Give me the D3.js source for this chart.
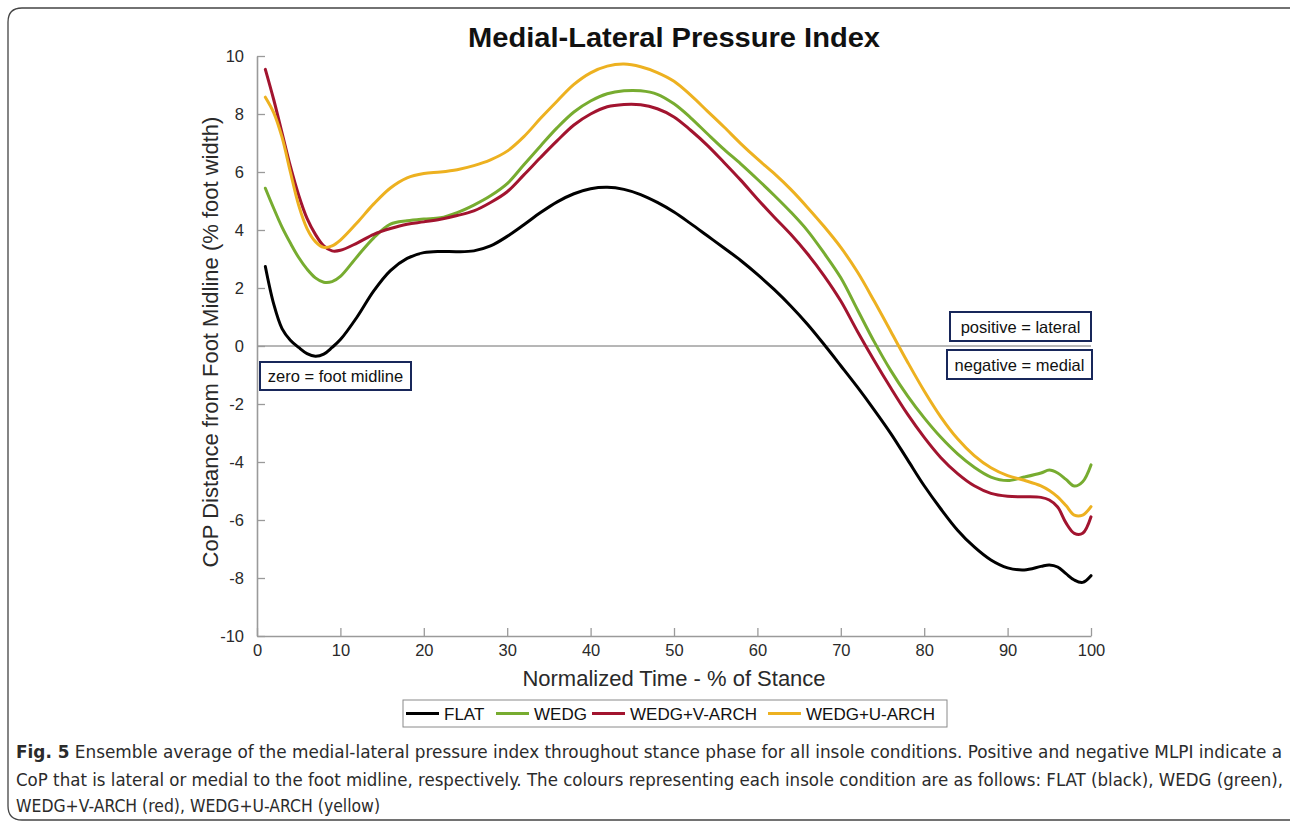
<!DOCTYPE html>
<html>
<head>
<meta charset="utf-8">
<script src="https://cdn.jsdelivr.net/npm/d3@7/dist/d3.min.js"></script>
<style>
  html, body { margin: 0; padding: 0; background: #fff; }
  svg { display: block; }
</style>
</head>
<body>
<svg id="chart" width="1290" height="827"></svg>
<script>
// ---------------- data ----------------
const xValues = [1,2,3,4,5,6,7,8,9,10,12,14,16,18,20,22,24,26,28,30,32,34,36,38,40,42,44,46,48,50,52,54,56,58,60,62,64,66,68,70,72,74,76,78,80,82,84,86,88,90,92,94,95,96,97,98,99,100];

const flat = [2.74,1.45,0.6,0.2,-0.05,-0.26,-0.35,-0.28,-0.05,0.22,1.0,1.9,2.6,3.02,3.22,3.26,3.25,3.28,3.45,3.78,4.18,4.6,4.97,5.25,5.42,5.47,5.4,5.22,4.95,4.62,4.22,3.8,3.38,2.95,2.47,1.95,1.38,0.75,0.05,-0.68,-1.42,-2.2,-3.02,-3.92,-4.82,-5.62,-6.35,-6.93,-7.38,-7.65,-7.72,-7.6,-7.55,-7.62,-7.85,-8.07,-8.15,-7.92];

const wedg = [5.44,4.75,4.1,3.55,3.05,2.65,2.35,2.2,2.22,2.4,3.08,3.73,4.2,4.32,4.38,4.42,4.6,4.86,5.18,5.6,6.25,6.9,7.53,8.07,8.45,8.7,8.8,8.8,8.68,8.35,7.87,7.32,6.78,6.28,5.75,5.2,4.62,3.98,3.2,2.35,1.25,0.15,-0.85,-1.72,-2.48,-3.15,-3.72,-4.18,-4.52,-4.64,-4.52,-4.38,-4.28,-4.38,-4.6,-4.83,-4.68,-4.1];

const wedgV = [9.54,8.5,7.35,6.2,5.2,4.4,3.85,3.45,3.28,3.3,3.55,3.85,4.05,4.2,4.28,4.37,4.5,4.66,4.95,5.32,5.9,6.5,7.08,7.62,8.0,8.25,8.33,8.32,8.18,7.9,7.44,6.92,6.33,5.72,5.07,4.45,3.85,3.18,2.42,1.55,0.5,-0.5,-1.45,-2.35,-3.15,-3.85,-4.4,-4.82,-5.08,-5.18,-5.2,-5.22,-5.31,-5.55,-6.1,-6.46,-6.46,-5.89];

const wedgU = [8.58,8.05,7.2,6.0,4.85,4.05,3.6,3.4,3.45,3.65,4.25,4.9,5.45,5.8,5.95,6.0,6.08,6.22,6.42,6.72,7.22,7.85,8.45,9.02,9.42,9.65,9.72,9.63,9.43,9.13,8.65,8.1,7.55,6.98,6.45,5.95,5.4,4.78,4.12,3.4,2.55,1.55,0.5,-0.55,-1.55,-2.45,-3.2,-3.78,-4.2,-4.47,-4.63,-4.82,-4.98,-5.2,-5.5,-5.83,-5.83,-5.54];

const seriesNames = ["FLAT", "WEDG", "WEDG+V-ARCH", "WEDG+U-ARCH"];
const seriesColors = ["#000000", "#77ac30", "#a2142f", "#edb120"];
const seriesValues = [flat, wedg, wedgV, wedgU];

const xTicks = [0,10,20,30,40,50,60,70,80,90,100];
const yTicks = [-10,-8,-6,-4,-2,0,2,4,6,8,10];

const titleText = "Medial-Lateral Pressure Index";
const xLabel = "Normalized Time - % of Stance";
const yLabel = "CoP Distance from Foot Midline (% foot width)";
const captionLines = [
  ["Fig. 5", " Ensemble average of the medial-lateral pressure index throughout stance phase for all insole conditions. Positive and negative MLPI indicate a"],
  ["", "CoP that is lateral or medial to the foot midline, respectively. The colours representing each insole condition are as follows: FLAT (black), WEDG (green),"],
  ["", "WEDG+V-ARCH (red), WEDG+U-ARCH (yellow)"]
];

// ---------------- layout ----------------
const svg = d3.select("#chart");
const FONT = "'Liberation Sans', Arial, Helvetica, sans-serif";
const plot = { left: 257, right: 1091, top: 56, bottom: 636 };

const x = d3.scaleLinear().domain([0, 100]).range([plot.left, plot.right]);
const y = d3.scaleLinear().domain([-10, 10]).range([plot.bottom, plot.top]);

// outer frame
svg.append("path")
  .attr("d", "M 1296 8 L 22 8 Q 8 8 8 22 L 8 806 Q 8 820 22 820 L 1296 820")
  .attr("fill", "none").attr("stroke", "#444").attr("stroke-width", 1.3);

// title
svg.append("text")
  .attr("x", 674).attr("y", 47)
  .attr("text-anchor", "middle")
  .attr("font-family", FONT).attr("font-weight", "bold")
  .attr("font-size", 27).attr("fill", "#111")
  .attr("textLength", 412).attr("lengthAdjust", "spacingAndGlyphs")
  .text(titleText);

// zero line
svg.append("line")
  .attr("x1", x(0)).attr("x2", x(100))
  .attr("y1", y(0)).attr("y2", y(0))
  .attr("stroke", "#6f6f6f").attr("stroke-width", 1);

// axes
const axisColor = "#9a9a9a";
const fmt = d => String(d);
const xAxis = d3.axisBottom(x).tickValues(xTicks).tickFormat(fmt).tickSizeInner(-8).tickSizeOuter(0).tickPadding(14);
const gx = svg.append("g").attr("transform", `translate(0,${plot.bottom})`).call(xAxis);
const yAxis = d3.axisLeft(y).tickValues(yTicks).tickFormat(fmt).tickSizeInner(-8).tickSizeOuter(0).tickPadding(13);
const gy = svg.append("g").attr("transform", `translate(${plot.left},0)`).call(yAxis);

[gx, gy].forEach(g => {
  g.select(".domain").attr("stroke", axisColor).attr("stroke-width", 1.6);
  g.selectAll(".tick line").attr("stroke", axisColor).attr("stroke-width", 1.3);
  g.selectAll(".tick text").attr("font-family", FONT).attr("font-size", 16.5).attr("fill", "#2a2a2a");
});
gx.selectAll(".tick text").attr("dy", "0.35em");

// axis labels
svg.append("text")
  .attr("x", 674).attr("y", 686)
  .attr("text-anchor", "middle")
  .attr("font-family", FONT).attr("font-size", 22).attr("fill", "#2a2a2a")
  .text(xLabel);

svg.append("text")
  .attr("transform", "translate(218,342) rotate(-90)")
  .attr("text-anchor", "middle")
  .attr("font-family", FONT).attr("font-size", 22).attr("fill", "#2a2a2a")
  .text(yLabel);

// lines
const line = d3.line()
  .x((d, i) => x(xValues[i]))
  .y(d => y(d))
  .curve(d3.curveCatmullRom.alpha(0.5));

seriesValues.forEach((vals, k) => {
  svg.append("path")
    .datum(vals)
    .attr("d", line)
    .attr("fill", "none")
    .attr("stroke", seriesColors[k])
    .attr("stroke-width", 3)
    .attr("stroke-linejoin", "round")
    .attr("stroke-linecap", "round");
});

// annotation boxes
const boxes = [
  { text: "zero = foot midline", x0: 260, x1: 411, y0: 362, y1: 390 },
  { text: "positive = lateral", x0: 950, x1: 1091, y0: 312, y1: 341 },
  { text: "negative = medial", x0: 947, x1: 1092, y0: 350, y1: 379 }
];
boxes.forEach(b => {
  svg.append("rect")
    .attr("x", b.x0).attr("y", b.y0)
    .attr("width", b.x1 - b.x0).attr("height", b.y1 - b.y0)
    .attr("fill", "#fff").attr("stroke", "#18275a").attr("stroke-width", 2);
  svg.append("text")
    .attr("x", (b.x0 + b.x1) / 2).attr("y", (b.y0 + b.y1) / 2 + 6)
    .attr("text-anchor", "middle")
    .attr("font-family", FONT).attr("font-size", 16.5).attr("fill", "#111")
    .text(b.text);
});

// legend
const legendBox = { x0: 403, x1: 947, y0: 700, y1: 727 };
svg.append("rect")
  .attr("x", legendBox.x0).attr("y", legendBox.y0)
  .attr("width", legendBox.x1 - legendBox.x0).attr("height", legendBox.y1 - legendBox.y0)
  .attr("fill", "#fff").attr("stroke", "#8a8a8a").attr("stroke-width", 1);
const legendPos = [406, 496, 592, 768];
seriesNames.forEach((name, k) => {
  const lx = legendPos[k];
  svg.append("line")
    .attr("x1", lx).attr("x2", lx + 33)
    .attr("y1", 713.5).attr("y2", 713.5)
    .attr("stroke", seriesColors[k]).attr("stroke-width", 3);
  svg.append("text")
    .attr("x", lx + 38).attr("y", 719.5)
    .attr("font-family", FONT).attr("font-size", 17).attr("fill", "#111")
    .text(name);
});

// caption
const capFont = "'Liberation Sans Narrow', 'DejaVu Sans Condensed', 'Open Sans', Arial, sans-serif";
const capY = [758, 786, 812];
const capW = [1266, 1267, 364];
captionLines.forEach((parts, i) => {
  const t = svg.append("text")
    .attr("x", 16).attr("y", capY[i])
    .attr("font-family", capFont).attr("font-size", 18).attr("fill", "#2b2b2b")
    .attr("textLength", capW[i]).attr("lengthAdjust", "spacingAndGlyphs");
  if (parts[0]) t.append("tspan").attr("font-weight", "bold").text(parts[0]);
  t.append("tspan").text(parts[1]);
});
</script>
</body>
</html>
